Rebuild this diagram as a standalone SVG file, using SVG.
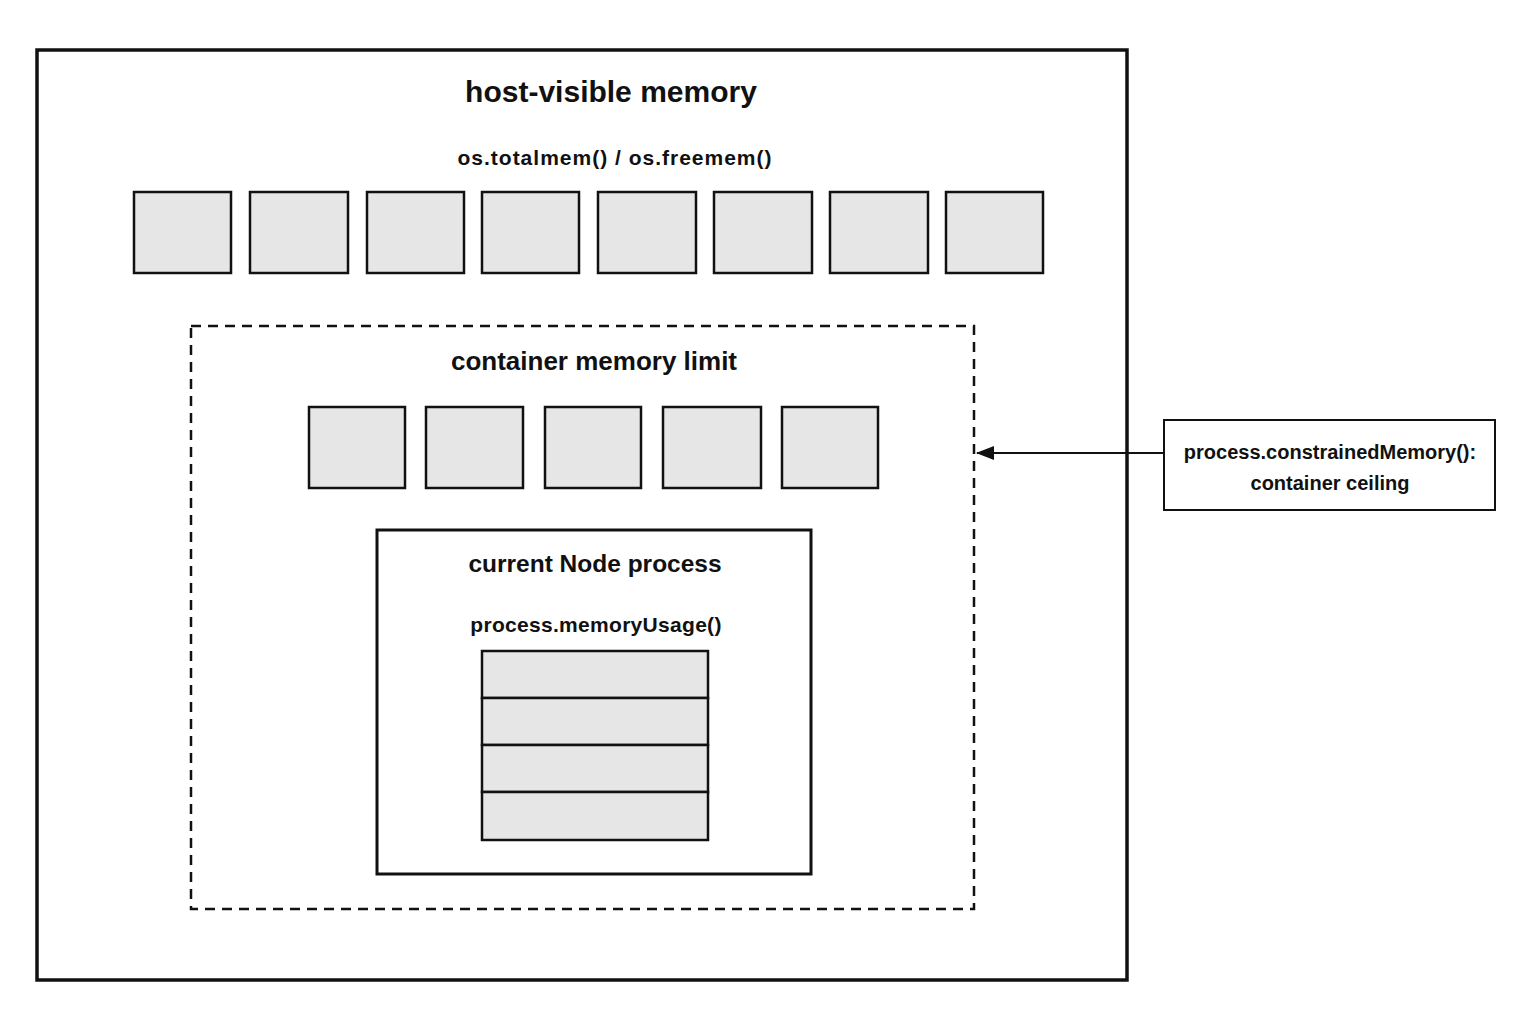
<svg xmlns="http://www.w3.org/2000/svg" width="1536" height="1024" viewBox="0 0 1536 1024">
<style>
text{font-family:"Liberation Sans",Arial,sans-serif;fill:#111;text-anchor:middle}
.t{font-size:30px;font-weight:bold}
.s{font-size:21px;font-weight:bold;letter-spacing:1px}
.c{font-size:20px;font-weight:bold}
.cell{fill:#e6e6e6;stroke:#111;stroke-width:2.5}
</style>
<defs><marker id="ah" markerWidth="18" markerHeight="14" refX="17" refY="7" orient="auto" markerUnits="userSpaceOnUse"><path d="M0,0 L18,7 L0,14 z" fill="#111"/></marker></defs>
<rect width="1536" height="1024" fill="#fff"/>
<g id="host">
<rect x="37" y="50" width="1090" height="930" fill="none" stroke="#111" stroke-width="3.5"/>
<text class="t" x="611" y="102">host-visible memory</text>
<text class="s" x="615" y="165">os.totalmem() / os.freemem()</text>
<rect class="cell" x="134" y="192" width="97" height="81"/>
<rect class="cell" x="250" y="192" width="98" height="81"/>
<rect class="cell" x="367" y="192" width="97" height="81"/>
<rect class="cell" x="482" y="192" width="97" height="81"/>
<rect class="cell" x="598" y="192" width="98" height="81"/>
<rect class="cell" x="714" y="192" width="98" height="81"/>
<rect class="cell" x="830" y="192" width="98" height="81"/>
<rect class="cell" x="946" y="192" width="97" height="81"/>
</g>
<g id="container">
<rect x="191" y="326" width="783" height="583" fill="none" stroke="#111" stroke-width="2.5" stroke-dasharray="10,7"/>
<text class="t" x="594" y="370" style="font-size:26px">container memory limit</text>
<rect class="cell" x="309" y="407" width="96" height="81"/>
<rect class="cell" x="426" y="407" width="97" height="81"/>
<rect class="cell" x="545" y="407" width="96" height="81"/>
<rect class="cell" x="663" y="407" width="98" height="81"/>
<rect class="cell" x="782" y="407" width="96" height="81"/>
</g>
<g id="process">
<rect x="377" y="530" width="434" height="344" fill="#fff" stroke="#111" stroke-width="3"/>
<text class="t" x="595" y="572" style="font-size:24.5px">current Node process</text>
<text class="s" x="596" y="632" style="letter-spacing:0.3px">process.memoryUsage()</text>
<rect class="cell" x="482" y="651" width="226" height="47"/>
<rect class="cell" x="482" y="698" width="226" height="47"/>
<rect class="cell" x="482" y="745" width="226" height="47"/>
<rect class="cell" x="482" y="792" width="226" height="48"/>
</g>
<g id="callout">
<rect x="1164" y="420" width="331" height="90" fill="#fff" stroke="#111" stroke-width="2"/>
<text class="c" x="1330" y="459">process.constrainedMemory():</text>
<text class="c" x="1330" y="490">container ceiling</text>
</g>
<g id="connectors">
<line x1="1164" y1="453" x2="977" y2="453" stroke="#111" stroke-width="2" marker-end="url(#ah)"/>
</g>
</svg>
